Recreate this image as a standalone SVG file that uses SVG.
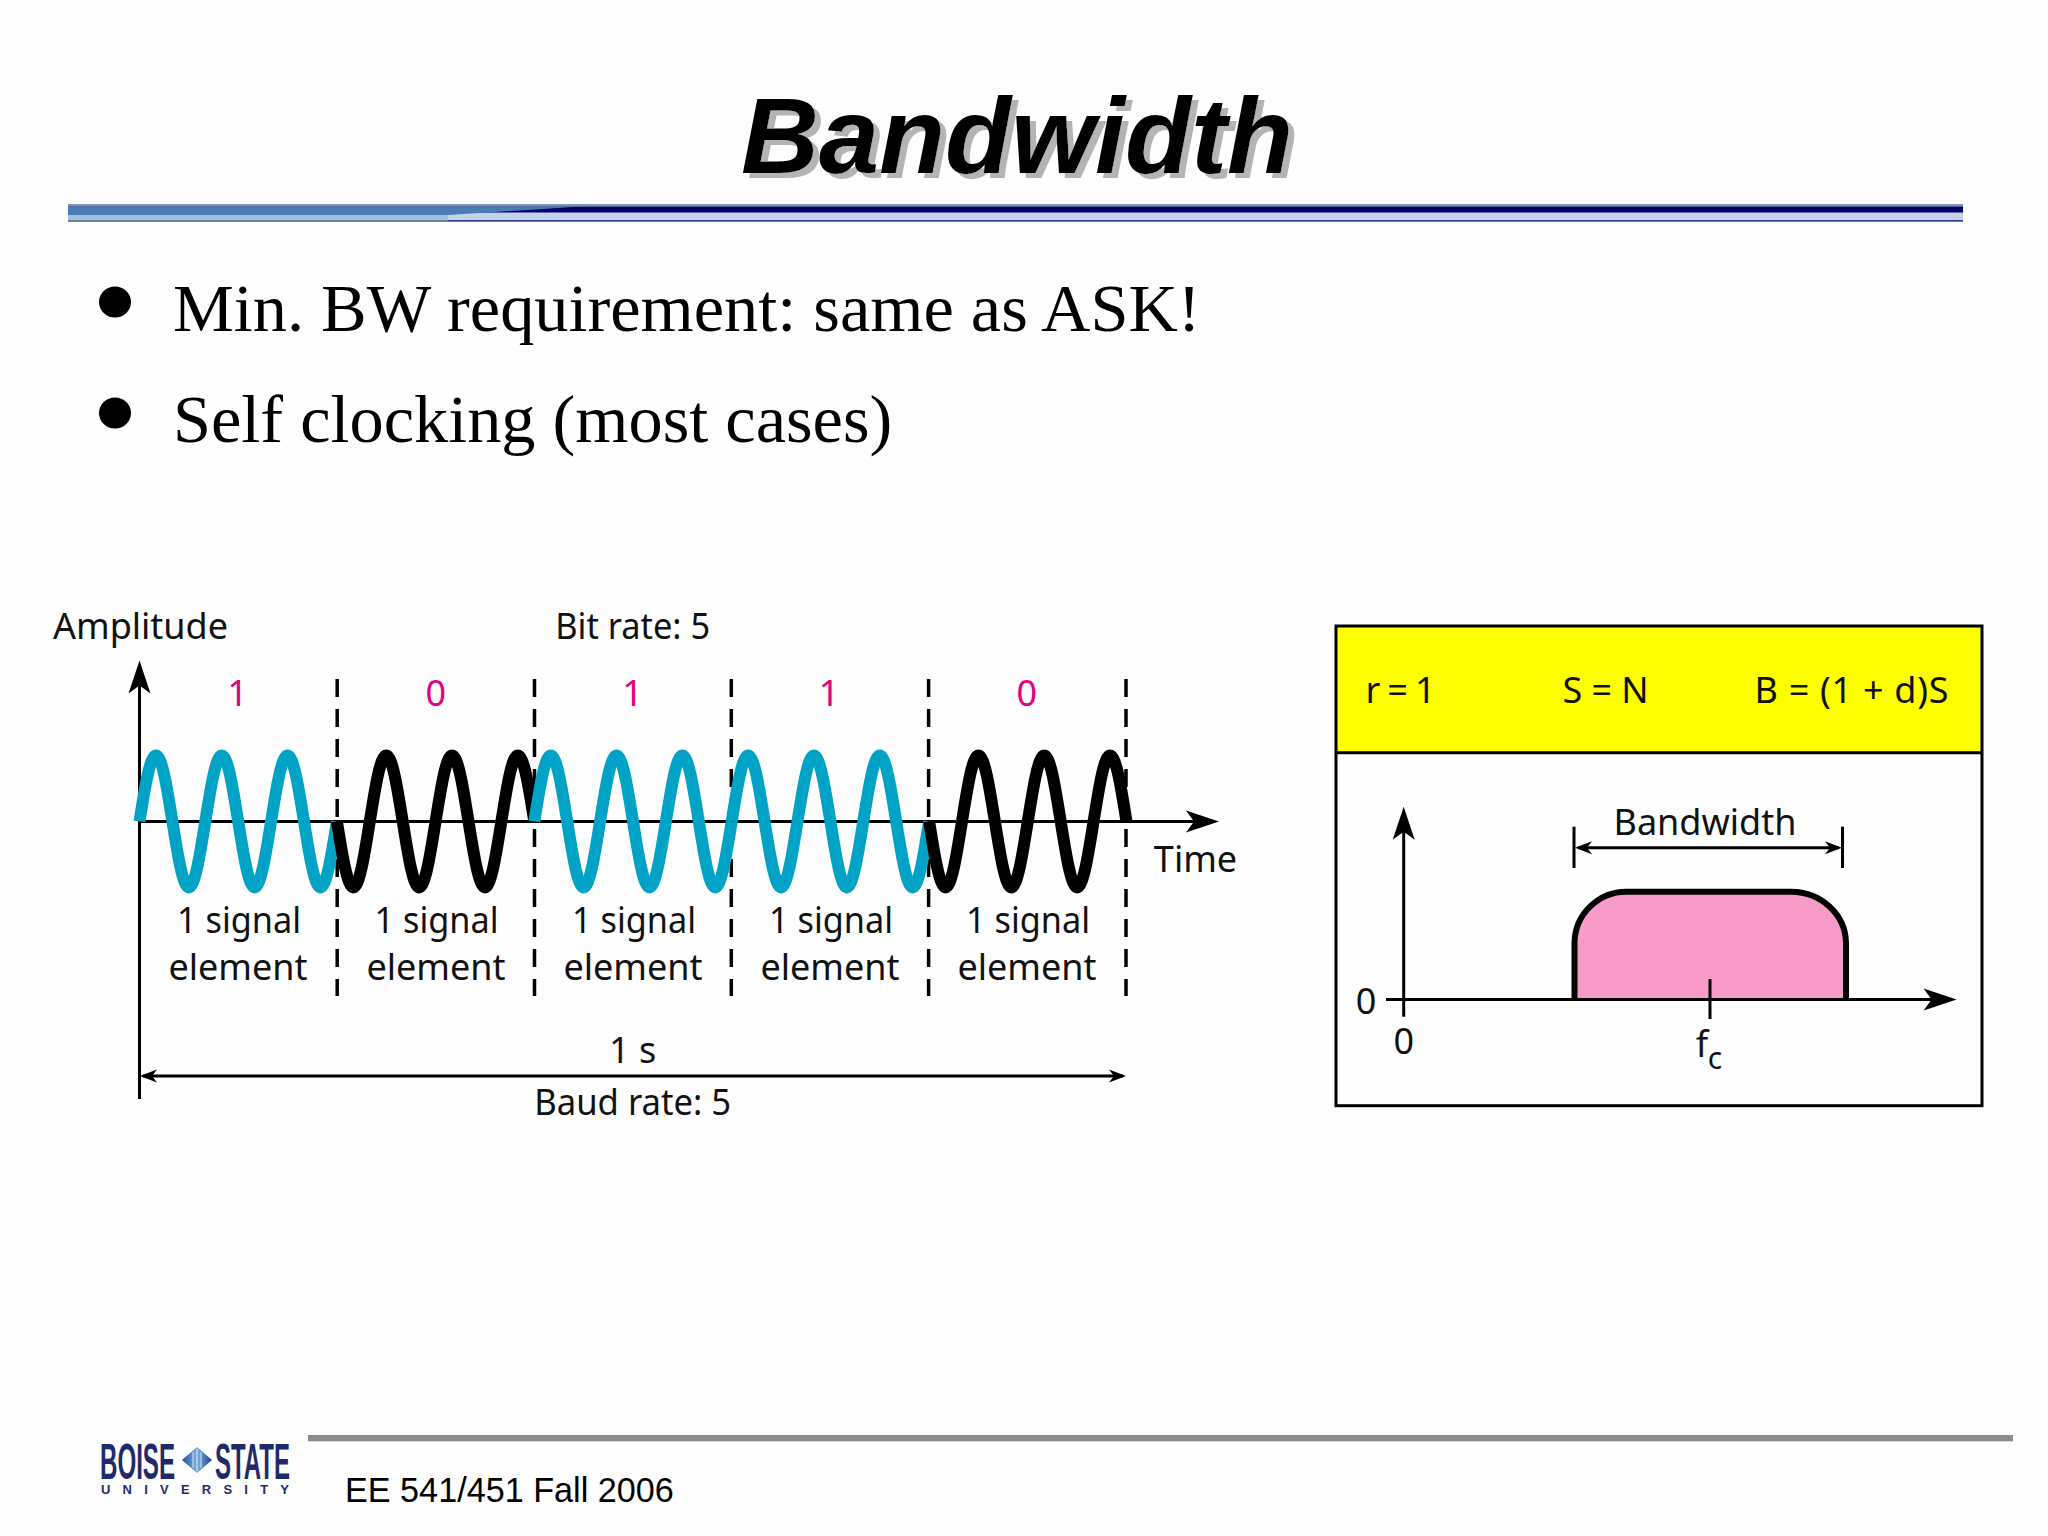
<svg xmlns="http://www.w3.org/2000/svg" width="2048" height="1536" viewBox="0 0 2048 1536">
<style>
.serif{font-family:"Liberation Serif",serif;font-size:68.35px;fill:#000}
.lbl{font-family:"Noto Sans",sans-serif;font-size:36px;fill:#111;text-anchor:middle}
.bit{font-family:"Noto Sans",sans-serif;font-size:36px;fill:#e6007e;text-anchor:middle}
.ttl{font-family:"Liberation Sans",sans-serif;font-size:108px;font-weight:bold;font-style:italic}
.ax{stroke:#000;stroke-width:3;fill:none}
.dash{stroke:#000;stroke-width:3.5;fill:none;stroke-dasharray:18 12}
.wave{fill:none;stroke-width:12}
.blue{stroke:#00a2c6}
.blk{stroke:#000}
.logo{font-family:"Liberation Sans",sans-serif;font-weight:bold;fill:#1f2a6b}
</style>
<defs>
<filter id="shadow" x="-5%" y="-10%" width="110%" height="125%"><feFlood flood-color="#b4b4b4"/><feComposite in2="SourceAlpha" operator="in"/><feOffset dx="6" dy="5"/><feMerge><feMergeNode/><feMergeNode in="SourceGraphic"/></feMerge></filter>
<marker id="big" markerUnits="userSpaceOnUse" viewBox="-34 -12 36 24" refX="-6" refY="0" markerWidth="36" markerHeight="24" orient="auto-start-reverse"><path d="M0,0L-33,-11L-25,0L-33,11Z" fill="#000"/></marker>
<marker id="small" markerUnits="userSpaceOnUse" viewBox="-18 -8 20 16" refX="-3" refY="0" markerWidth="20" markerHeight="16" orient="auto-start-reverse"><path d="M0,0L-17,-6.5L-12,0L-17,6.5Z" fill="#000"/></marker>
<path id="up" d="M0,0c5.36,-33.8 10.5,-66 16.45,-66c5.95,0 11.09,32.2 16.45,66c5.36,33.8 10.5,66 16.45,66c5.95,0 11.09,-32.2 16.45,-66c5.36,-33.8 10.5,-66 16.45,-66c5.95,0 11.09,32.2 16.45,66c5.36,33.8 10.5,66 16.45,66c5.95,0 11.09,-32.2 16.45,-66c5.36,-33.8 10.5,-66 16.45,-66c5.95,0 11.09,32.2 16.45,66c5.36,33.8 10.5,66 16.45,66c5.95,0 11.09,-32.2 16.45,-66"/>
<path id="down" d="M0,0c5.36,33.8 10.5,66 16.45,66c5.95,0 11.09,-32.2 16.45,-66c5.36,-33.8 10.5,-66 16.45,-66c5.95,0 11.09,32.2 16.45,66c5.36,33.8 10.5,66 16.45,66c5.95,0 11.09,-32.2 16.45,-66c5.36,-33.8 10.5,-66 16.45,-66c5.95,0 11.09,32.2 16.45,66c5.36,33.8 10.5,66 16.45,66c5.95,0 11.09,-32.2 16.45,-66c5.36,-33.8 10.5,-66 16.45,-66c5.95,0 11.09,32.2 16.45,66"/>
<linearGradient id="dia" x1="0" x2="1" y1="0" y2="0"><stop offset="0" stop-color="#1f4f9f"/><stop offset="0.5" stop-color="#7fb0e0"/><stop offset="1" stop-color="#1f3f8f"/></linearGradient>
</defs>
<rect width="2048" height="1536" fill="#fefefe"/>

<g id="title">
<text class="ttl" x="741" y="173" fill="#000" filter="url(#shadow)">Bandwidth</text>
</g>

<g id="title-rule">
<rect x="68" y="204" width="1895" height="18" fill="#c4d2ea"/>
<rect x="68" y="204" width="1895" height="2.5" fill="#7f97a8"/>
<rect x="68" y="206.5" width="1895" height="6" fill="#000066"/>
<path d="M68,206.5H581L448,215H68Z" fill="#4a7cb6"/>
<rect x="68" y="215" width="380" height="5" fill="#a6bfdb"/>
<rect x="68" y="220" width="1895" height="1.6" fill="#2a3f94"/>
<rect x="68" y="220" width="380" height="1.6" fill="#5f86b0"/>
</g>

<g id="bullets">
<ellipse cx="115" cy="302" rx="16" ry="15.5" fill="#000"/>
<text class="serif" x="173" y="331">Min. BW requirement: same as ASK!</text>
<ellipse cx="115" cy="413" rx="16" ry="15.5" fill="#000"/>
<text class="serif" x="173" y="442">Self clocking (most cases)</text>
</g>

<g id="connectors">
<g id="bit-dividers">
<line class="dash" x1="337.2" y1="679" x2="337.2" y2="996"/>
<line class="dash" x1="534.5" y1="679" x2="534.5" y2="996"/>
<line class="dash" x1="731.3" y1="679" x2="731.3" y2="996"/>
<line class="dash" x1="928.6" y1="679" x2="928.6" y2="996"/>
<line class="dash" x1="1126" y1="679" x2="1126" y2="996"/>
</g>
<line class="ax" x1="139.5" y1="1099" x2="139.5" y2="666.6" marker-end="url(#big)"/>
<line class="ax" x1="139.5" y1="821.4" x2="1213" y2="821.4" marker-end="url(#big)"/>
<line class="ax" stroke-width="2.5" x1="143" y1="1076" x2="1123" y2="1076" marker-start="url(#small)" marker-end="url(#small)"/>
<line class="ax" x1="1403.7" y1="1016.7" x2="1403.7" y2="812.7" marker-end="url(#big)"/>
<line class="ax" x1="1386" y1="999.5" x2="1950.6" y2="999.5" marker-end="url(#big)"/>
<line class="ax" stroke-width="2.5" x1="1578" y1="847.7" x2="1839" y2="847.7" marker-start="url(#small)" marker-end="url(#small)"/>
<line class="ax" stroke-width="2" x1="1574" y1="826.7" x2="1574" y2="868"/>
<line class="ax" stroke-width="2" x1="1842.5" y1="826.7" x2="1842.5" y2="868"/>
</g>

<g id="signal">
<use href="#up" class="wave blue" x="139.5" y="821.4"/>
<use href="#down" class="wave blk" x="336.9" y="821.4"/>
<use href="#up" class="wave blue" x="534.3" y="821.4"/>
<use href="#up" class="wave blue" x="731.7" y="821.4"/>
<use href="#down" class="wave blk" x="929.1" y="821.4"/>
</g>

<g id="time-diagram-labels">
<text class="lbl" x="140.5" y="639" textLength="175" lengthAdjust="spacingAndGlyphs">Amplitude</text>
<text class="lbl" x="632.7" y="639" textLength="155" lengthAdjust="spacingAndGlyphs">Bit rate: 5</text>
<text class="lbl" x="1195.5" y="872">Time</text>
<text class="lbl" x="632.7" y="1063">1 s</text>
<text class="lbl" x="632.7" y="1115" textLength="197" lengthAdjust="spacingAndGlyphs">Baud rate: 5</text>
</g>

<g id="bit-1"><text class="bit" x="237.6" y="706">1</text><text class="lbl" x="239" y="932.6" textLength="124" lengthAdjust="spacingAndGlyphs">1 signal</text><text class="lbl" x="238" y="980">element</text></g>
<g id="bit-2"><text class="bit" x="435.7" y="706">0</text><text class="lbl" x="436.5" y="932.6" textLength="124" lengthAdjust="spacingAndGlyphs">1 signal</text><text class="lbl" x="436" y="980">element</text></g>
<g id="bit-3"><text class="bit" x="632.5" y="706">1</text><text class="lbl" x="634" y="932.6" textLength="124" lengthAdjust="spacingAndGlyphs">1 signal</text><text class="lbl" x="633" y="980">element</text></g>
<g id="bit-4"><text class="bit" x="829" y="706">1</text><text class="lbl" x="831" y="932.6" textLength="124" lengthAdjust="spacingAndGlyphs">1 signal</text><text class="lbl" x="830" y="980">element</text></g>
<g id="bit-5"><text class="bit" x="1026.7" y="706">0</text><text class="lbl" x="1028" y="932.6" textLength="124" lengthAdjust="spacingAndGlyphs">1 signal</text><text class="lbl" x="1027" y="980">element</text></g>

<g id="formula-panel">
<rect x="1336" y="626" width="646" height="127" fill="#ffff00"/>
<rect class="ax" x="1336" y="626" width="646" height="479.7"/>
<line class="ax" x1="1336" y1="752.7" x2="1982" y2="752.7"/>
<text class="lbl" x="1400.5" y="702.7" textLength="70">r = 1</text>
<text class="lbl" x="1605.5" y="702.7" textLength="86">S = N</text>
<text class="lbl" x="1851.5" y="702.7" textLength="194">B = (1 + d)S</text>
</g>

<g id="spectrum">
<path d="M1574.5,999.5V943A52,52 0 0 1 1628,891.7H1790.5A55,52 0 0 1 1846,943V999.5Z" fill="#f99bc9"/>
<path d="M1574.5,999.5V943A52,52 0 0 1 1628,891.7H1790.5A55,52 0 0 1 1846,943V999.5" fill="none" stroke="#000" stroke-width="6"/>
<line class="ax" x1="1386" y1="999.5" x2="1924" y2="999.5"/>
<line class="ax" x1="1710" y1="979" x2="1710" y2="1019"/>
<text class="lbl" x="1705" y="835">Bandwidth</text>
<text class="lbl" x="1366" y="1013.7">0</text>
<text class="lbl" x="1403.7" y="1054">0</text>
<text class="lbl" x="1702" y="1056.7">f</text>
<text class="lbl" x="1715" y="1069" style="font-size:30px">c</text>
</g>

<g id="footer">
<rect x="308" y="1435" width="1705" height="6.3" fill="#8a8a8a"/>
<text x="345" y="1501.7" style="font-family:'Liberation Sans',sans-serif;font-size:34.2px;fill:#000">EE 541/451 Fall 2006</text>
</g>

<g id="logo">
<text class="logo" x="100" y="1479" style="font-size:50px" textLength="75" lengthAdjust="spacingAndGlyphs">BOISE</text>
<polygon points="182,1460 197,1447 212,1460 197,1473" fill="url(#dia)"/>
<path d="M193,1452V1468M197,1449V1471M201,1452V1468" stroke="#d8e6f6" stroke-width="1"/>
<text class="logo" x="215" y="1479" style="font-size:50px" textLength="75" lengthAdjust="spacingAndGlyphs">STATE</text>
<text class="logo" x="101" y="1494" style="font-size:13px" textLength="188" lengthAdjust="spacing">UNIVERSITY</text>
</g>
</svg>
